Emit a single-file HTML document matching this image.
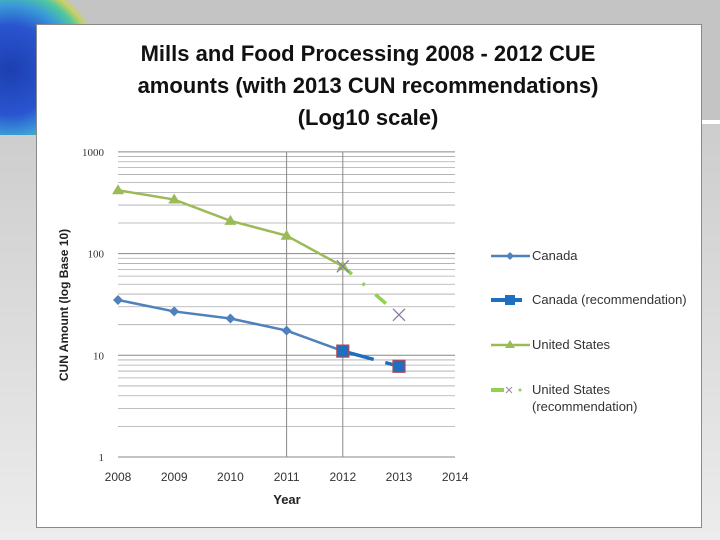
<!DOCTYPE html>
<html><head><meta charset="utf-8"><style>
body{margin:0;width:720px;height:540px;overflow:hidden;background:linear-gradient(#c4c4c4 0,#c4c4c4 120px,#fff 120px,#fff 124px,#cdcdcd 124px,#ececec 540px);font-family:"Liberation Sans",sans-serif;position:relative}
</style></head><body>
<div style="position:absolute;left:0;top:0;width:92px;height:135px;overflow:hidden;background:radial-gradient(circle at 10px 70px,#1c3fb0 0,#2a55d0 45px,#3a9ad8 65px,#50c8a0 78px,#c8d060 86px,#c4c4c4 92px)"></div>
<svg width="720" height="540" style="position:absolute;left:0;top:0" id="svg">
<rect x="36.5" y="24.5" width="665" height="503" fill="#fff" stroke="#8a8a8a"/>
<text x="368" y="61" text-anchor="middle" font-weight="bold" font-size="22" fill="#111">Mills and Food Processing 2008 - 2012 CUE</text>
<text x="368" y="93" text-anchor="middle" font-weight="bold" font-size="22" fill="#111">amounts (with 2013 CUN recommendations)</text>
<text x="368" y="125" text-anchor="middle" font-weight="bold" font-size="22" fill="#111">(Log10 scale)</text>
<text transform="translate(68,305) rotate(-90)" text-anchor="middle" font-weight="bold" font-size="12" fill="#222">CUN Amount (log Base 10)</text>
<text x="287" y="504" text-anchor="middle" font-weight="bold" font-size="13" fill="#222">Year</text>
<g id="plot"></g>
<g font-size="13" fill="#333">
<line x1="491" y1="256" x2="530" y2="256" stroke="#4f81bd" stroke-width="2.5"/><path d="M510 252 l4 4 -4 4 -4 -4z" fill="#4f81bd"/>
<text x="532" y="260">Canada</text>
<line x1="491" y1="300" x2="522" y2="300" stroke="#1f6fc0" stroke-width="4"/><rect x="505" y="295" width="10" height="10" fill="#1f6fc0"/>
<text x="532" y="304">Canada (recommendation)</text>
<line x1="491" y1="345" x2="530" y2="345" stroke="#9bbb59" stroke-width="2.5"/><path d="M510 340 l5 8 -10 0z" fill="#9bbb59"/>
<text x="532" y="349">United States</text>
<line x1="491" y1="390" x2="504" y2="390" stroke="#92d050" stroke-width="4"/><path d="M506 387 l6 6 M512 387 l-6 6" stroke="#9a8ab0"/><circle cx="520" cy="390" r="1.5" fill="#92d050"/>
<text x="532" y="394">United States</text>
<text x="532" y="411">(recommendation)</text>
</g>
</svg>
<script>
const years=[2008,2009,2010,2011,2012];
const canada=[35,27,23,17.5,11];
const unitedStates=[420,340,210,150,75];
const recYears=[2012,2013];
const canadaRec=[11,7.8];
const usRec=[75,25];
const yTicks=[1,10,100,1000];
const xTicks=[2008,2009,2010,2011,2012,2013,2014];
const NS="http://www.w3.org/2000/svg";
const g=document.getElementById('plot');
const X=v=>118+(v-2008)*56.2;
const Y=v=>457-Math.log10(v)*101.7;
function mk(t,a,p){const e=document.createElementNS(NS,t);for(const k in a)e.setAttribute(k,a[k]);(p||g).appendChild(e);return e;}
for(let d=0;d<3;d++)for(let m=2;m<10;m++){const v=Math.pow(10,d)*m;
 const l=mk('line',{x1:118,x2:455,y1:Y(v),y2:Y(v),stroke:'#aaa','stroke-width':0.8});
 }
yTicks.forEach(v=>{const l=mk('line',{x1:118,x2:455,y1:Y(v),y2:Y(v),stroke:'#888'});
 
 const t=mk('text',{x:104,y:Y(v)+4,'text-anchor':'end','font-size':11,fill:'#333','font-family':'Liberation Serif'});t.textContent=v;
 });
[2011,2012].forEach(v=>{const l=mk('line',{x1:X(v),x2:X(v),y1:Y(1000),y2:Y(1),stroke:'#888'});
 });
xTicks.forEach(v=>{const t=mk('text',{x:X(v),y:481,'text-anchor':'middle','font-size':12,fill:'#333'});t.textContent=v;
 });
function pts(xs,ys){return xs.map((x,i)=>X(x)+','+Y(ys[i])).join(' ');}
let l;
l=mk('polyline',{points:pts(years,unitedStates),fill:'none',stroke:'#9bbb59','stroke-width':2.5});

unitedStates.forEach((v,i)=>{const x=X(years[i]),y=Y(v);const p=mk('path',{d:`M${x} ${y-6} L${x+6} ${y+4} L${x-6} ${y+4}Z`,fill:'#9bbb59'});
 });
l=mk('polyline',{points:pts(years,canada),fill:'none',stroke:'#4f81bd','stroke-width':2.5});

canada.forEach((v,i)=>{const x=X(years[i]),y=Y(v);const p=mk('path',{d:`M${x} ${y-5} L${x+5} ${y} L${x} ${y+5} L${x-5} ${y}Z`,fill:'#4f81bd'});
 });
l=mk('polyline',{points:pts(recYears,usRec),fill:'none',stroke:'#92d050','stroke-width':3.5,'stroke-dasharray':'12 14 3 14 14 100'});

usRec.forEach((v,i)=>{const x=X(recYears[i]),y=Y(v);const p=mk('path',{d:`M${x-6} ${y-6} L${x+6} ${y+6} M${x+6} ${y-6} L${x-6} ${y+6}`,stroke:'#8a7aa0','stroke-width':1.3});
 });
l=mk('polyline',{points:pts(recYears,canadaRec),fill:'none',stroke:'#1f6fc0','stroke-width':3.5,'stroke-dasharray':'32 12 100'});

canadaRec.forEach((v,i)=>{const x=X(recYears[i]),y=Y(v);const p=mk('rect',{x:x-6,y:y-6,width:12,height:12,fill:'#1f6fc0',stroke:'#b04a5a','stroke-width':1.2});
 });
</script>
</body></html>
